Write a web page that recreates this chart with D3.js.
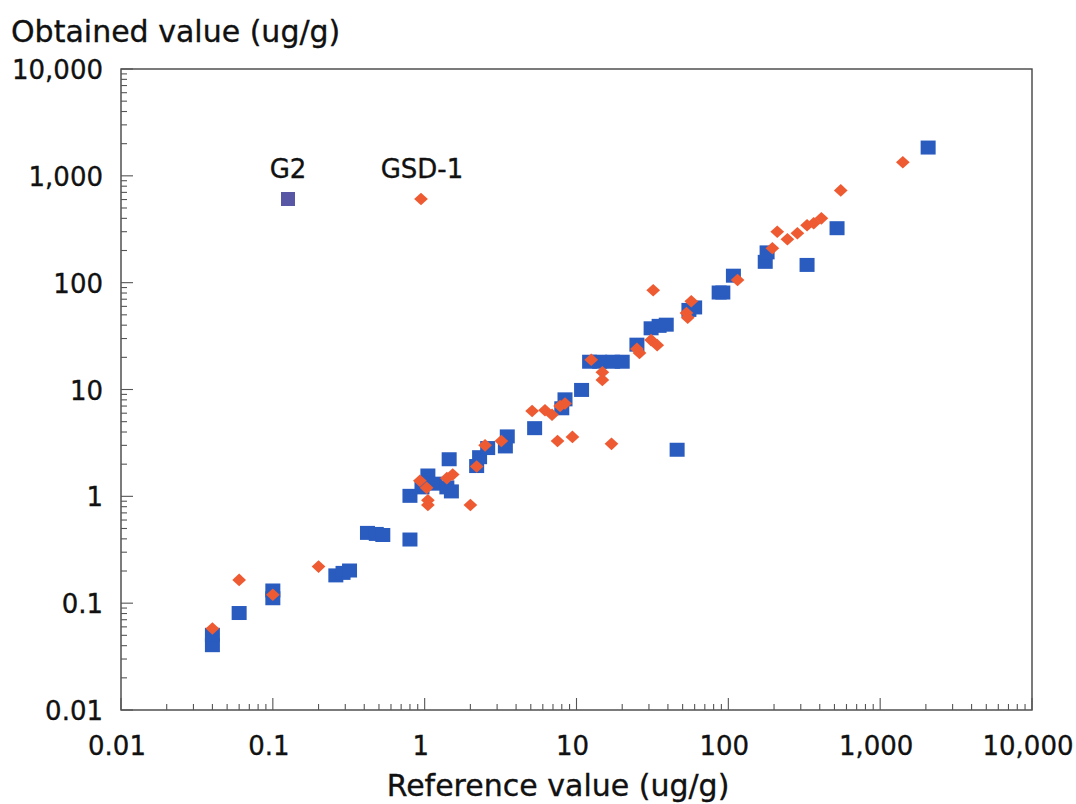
<!DOCTYPE html>
<html>
<head>
<meta charset="utf-8">
<script src="https://cdn.jsdelivr.net/npm/d3@7"></script>
<style>
  html, body { margin: 0; padding: 0; background: #fff; }
  svg { display: block; }
  text { font-family: "DejaVu Sans", sans-serif; fill: #111; stroke: #111; stroke-width: 0.35px; }
</style>
</head>
<body>
<div id="chart"></div>
<script>
// ---- data ----
const tickValues = [0.01, 0.1, 1, 10, 100, 1000, 10000];
const tickLabels = ["0.01", "0.1", "1", "10", "100", "1,000", "10,000"];

const seriesNames = ["G2", "GSD-1"];

const g2X = [0.04, 0.04, 0.06, 0.1, 0.1, 0.26, 0.29, 0.32, 0.42, 0.48, 0.53, 0.8, 0.8, 0.96, 1.05, 1.16, 1.4, 1.5, 1.45,
  2.2, 2.3, 2.6, 3.5, 3.4, 5.3, 8.0, 8.4, 10.8, 12.2, 14.2, 17.3, 20, 25, 31, 35, 39, 46, 55, 60, 87, 92, 108, 175, 180, 330, 520, 2070];
const g2Y = [0.04, 0.05, 0.08, 0.13, 0.11, 0.18, 0.19, 0.2, 0.45, 0.44, 0.43, 0.39, 1.0, 1.2, 1.55, 1.3, 1.2, 1.1, 2.2,
  1.9, 2.3, 2.8, 3.6, 2.9, 4.3, 6.6, 8.0, 9.8, 18, 18, 18, 18, 26, 37, 39, 40, 2.7, 55, 58, 80, 80, 115, 155, 190, 145, 320, 1820];

const gsdX = [0.04, 0.06, 0.1, 0.2, 0.93, 1.03, 1.05, 1.05, 1.4, 1.53, 2.0, 2.2, 2.5, 3.2, 5.1, 6.2, 6.9, 7.8, 8.4, 7.5, 9.4,
  12.5, 14.8, 14.8, 17, 25, 26, 31, 34, 32, 53, 54, 57, 115, 195, 210, 245, 285, 330, 365, 410, 550, 1410];
const gsdY = [0.058, 0.165, 0.12, 0.22, 1.4, 1.2, 0.92, 0.83, 1.48, 1.6, 0.83, 1.9, 3.0, 3.3, 6.3, 6.4, 5.8, 7.0, 7.4, 3.3, 3.6,
  19, 14.5, 12.3, 3.1, 24, 22, 29, 26, 85, 52, 47, 67, 106, 210, 300, 255, 290, 345, 360, 400, 730, 1340];

// ---- layout ----
const W = 1076, H = 804;
const mLeft = 121, mRight = 1032, mTop = 69, mBottom = 710;
const blue = "#2a5cbf", orange = "#ee5b32", legendBlue = "#5757a6";

const svg = d3.select("#chart").append("svg").attr("width", W).attr("height", H);

const x = d3.scaleLog().domain([0.01, 10000]).range([mLeft, mRight]);
const y = d3.scaleLog().domain([0.01, 10000]).range([mBottom, mTop]);

// minor/major tick values
const allTicks = [];
tickValues.forEach((d, i) => {
  if (i < tickValues.length - 1) for (let k = 1; k <= 9; k++) allTicks.push({v: k * d, major: k === 1});
  else allTicks.push({v: d, major: true});
});

const axisColor = "#444";
// frame
svg.append("rect").attr("x", mLeft).attr("y", mTop).attr("width", mRight - mLeft).attr("height", mBottom - mTop)
  .attr("fill", "none").attr("stroke", axisColor).attr("stroke-width", 1.4);

// inward ticks
const tg = svg.append("g").attr("stroke", "#555").attr("stroke-width", 1.1);
allTicks.forEach(t => {
  const len = t.major ? 12 : 6;
  tg.append("line").attr("x1", x(t.v)).attr("x2", x(t.v)).attr("y1", mBottom).attr("y2", mBottom - len);
  tg.append("line").attr("y1", y(t.v)).attr("y2", y(t.v)).attr("x1", mLeft).attr("x2", mLeft + len);
});

// tick labels
tickValues.forEach((v, i) => {
  svg.append("text").attr("x", 103).attr("y", y(v) + 10).attr("text-anchor", "end")
    .attr("font-size", 26).text(tickLabels[i]);
  svg.append("text").attr("x", x(v) - 4).attr("y", 755).attr("text-anchor", "middle")
    .attr("font-size", 26).text(tickLabels[i]);
});

// axis titles
svg.append("text").attr("x", 11).attr("y", 42).attr("font-size", 30).text("Obtained value (ug/g)");
svg.append("text").attr("x", 558).attr("y", 796).attr("text-anchor", "middle")
  .attr("font-size", 30).text("Reference value (ug/g)");

// data
const g2 = g2X.map((v, i) => ({x: v, y: g2Y[i]}));
const gsd = gsdX.map((v, i) => ({x: v, y: gsdY[i]}));

const sq = 15;
svg.append("g").selectAll("rect").data(g2).join("rect")
  .attr("x", d => x(d.x) - sq / 2).attr("y", d => y(d.y) - sq / 2)
  .attr("width", sq).attr("height", sq - 1).attr("fill", blue);

const diamond = d3.symbol().type(d3.symbolDiamond2).size(120);
svg.append("g").selectAll("path").data(gsd).join("path")
  .attr("transform", d => `translate(${x(d.x)},${y(d.y)}) scale(1,0.92)`)
  .attr("d", diamond).attr("fill", orange);

// legend
svg.append("text").attr("x", 288).attr("y", 178).attr("text-anchor", "middle").attr("font-size", 26).text(seriesNames[0]);
svg.append("rect").attr("x", 288 - 7).attr("y", 199 - 7).attr("width", 14).attr("height", 14).attr("fill", legendBlue);
svg.append("text").attr("x", 422).attr("y", 178).attr("text-anchor", "middle").attr("font-size", 26).text(seriesNames[1]);
svg.append("path").attr("transform", "translate(421,199) scale(1,0.92)").attr("d", diamond).attr("fill", orange);
</script>
</body>
</html>
